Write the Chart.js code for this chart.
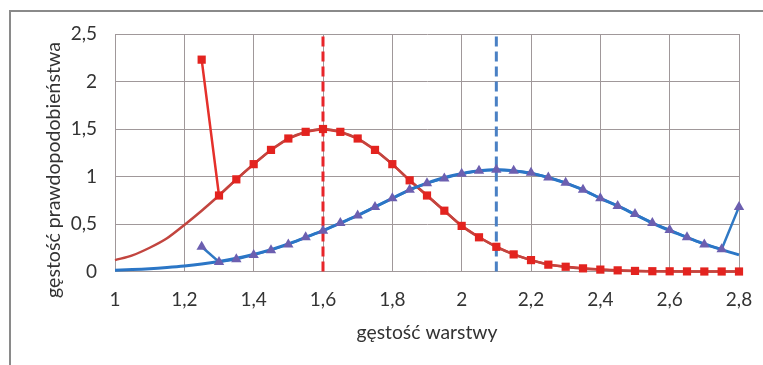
<!DOCTYPE html>
<html><head><meta charset="utf-8">
<script src="https://cdn.jsdelivr.net/npm/chart.js@4/dist/chart.umd.min.js"></script>
<style>
html,body{margin:0;padding:0;background:#fff;}
#wrap{position:relative;width:763px;height:365px;overflow:hidden;background:#fff;}
#frame{position:absolute;left:9px;top:10px;width:800px;height:400px;border-top:2px solid #8a8a8a;border-left:2px solid #8a8a8a;pointer-events:none;}
canvas{position:absolute;left:0;top:0;}
</style></head><body>
<div id="wrap"><canvas id="c" width="763" height="365"></canvas><div id="frame"></div></div>
<script>
// smooth (theoretical) density curves, x = 1.00 .. 2.80 step 0.05
const xSmooth = [1.00,1.05,1.10,1.15,1.20,1.25,1.30,1.35,1.40,1.45,1.50,1.55,1.60,1.65,1.70,1.75,1.80,1.85,1.90,1.95,2.00,2.05,2.10,2.15,2.20,2.25,2.30,2.35,2.40,2.45,2.50,2.55,2.60,2.65,2.70,2.75,2.80];
const redSmooth = [0.12,0.17,0.25,0.35,0.49,0.64,0.80,0.97,1.13,1.28,1.40,1.47,1.50,1.47,1.40,1.28,1.13,0.96,0.80,0.64,0.48,0.36,0.26,0.18,0.12,0.075,0.05,0.03,0.02,0.01,0.005,0.003,0.001,0,0,0,0];
const blueSmooth = [0.014,0.02,0.029,0.042,0.058,0.079,0.106,0.14,0.18,0.23,0.29,0.36,0.43,0.51,0.59,0.68,0.77,0.86,0.93,0.99,1.03,1.06,1.07,1.06,1.03,0.99,0.93,0.86,0.77,0.69,0.60,0.51,0.43,0.36,0.29,0.23,0.175];
// marker series, x = 1.25 .. 2.80 step 0.05
const xMarks = [1.25,1.30,1.35,1.40,1.45,1.50,1.55,1.60,1.65,1.70,1.75,1.80,1.85,1.90,1.95,2.00,2.05,2.10,2.15,2.20,2.25,2.30,2.35,2.40,2.45,2.50,2.55,2.60,2.65,2.70,2.75,2.80];
const redMarks = [2.23,0.80,0.97,1.13,1.28,1.40,1.47,1.50,1.47,1.40,1.28,1.13,0.96,0.80,0.64,0.48,0.36,0.26,0.18,0.12,0.072,0.05,0.033,0.02,0.012,0.006,0.003,0.002,0.001,0,0,0];
const blueMarks = [0.26,0.10,0.13,0.175,0.225,0.285,0.36,0.43,0.51,0.59,0.68,0.77,0.86,0.93,0.98,1.03,1.06,1.07,1.06,1.04,0.99,0.935,0.86,0.77,0.69,0.605,0.51,0.437,0.36,0.285,0.234,0.68];
// vertical reference lines (means)
const redMean = 1.6;
const blueMean = 2.1;
// axes
const xTickValues = [1,1.2,1.4,1.6,1.8,2,2.2,2.4,2.6,2.8];
const xTickLabels = ["1","1,2","1,4","1,6","1,8","2","2,2","2,4","2,6","2,8"];
const yTickValues = [0,0.5,1,1.5,2,2.5];
const yTickLabels = ["0","0,5","1","1,5","2","2,5"];
const xTitle = "gęstość warstwy";
const yTitle = "gęstość prawdopodobieństwa";

const pts = (xs, ys) => xs.map((x, i) => ({x: x, y: ys[i]}));

const RED_MARK = '#e3231f';
const RED_LINE = '#e5302b';
const RED_SMOOTH = '#c2453f';
const BLUE_LINE = '#2f78c4';
const BLUE_SMOOTH = '#2b76c6';
const TRI = '#6c5fb0';

const titlePlugin = {
  id: 'axisTitles',
  afterDraw(chart) {
    const ctx = chart.ctx;
    ctx.save();
    ctx.fillStyle = '#333333';
    ctx.textAlign = 'center';
    ctx.textBaseline = 'middle';
    ctx.font = '20px Lato';
    let w = ctx.measureText(xTitle).width;
    ctx.font = (20 * 141 / w).toFixed(2) + 'px Lato';
    ctx.fillText(xTitle, 427, 333);
    ctx.font = '20px Lato';
    w = ctx.measureText(yTitle).width;
    ctx.font = (20 * 256 / w).toFixed(2) + 'px Lato';
    ctx.translate(54, 170);
    ctx.rotate(-Math.PI / 2);
    ctx.fillText(yTitle, 0, 0);
    ctx.restore();
  }
};

new Chart(document.getElementById('c'), {
  type: 'line',
  data: {
    datasets: [
      { data: [{x: redMean, y: 0}, {x: redMean, y: 2.5}], borderColor: '#e8252a', borderWidth: 3, borderDash: [10, 5], pointRadius: 0, order: 10, clip: false },
      { data: [{x: blueMean, y: 0}, {x: blueMean, y: 2.52}], borderColor: '#4a80c4', borderWidth: 3, borderDash: [10, 5], pointRadius: 0, order: 9, clip: false },
      { data: pts(xMarks, redMarks), borderColor: RED_LINE, borderWidth: 2.5, pointRadius: 0, tension: 0, order: 8, clip: false },
      { data: pts(xMarks, blueMarks), borderColor: BLUE_LINE, borderWidth: 2.5, pointRadius: 0, tension: 0, order: 7, clip: false },
      { data: pts(xSmooth, redSmooth), borderColor: RED_SMOOTH, borderWidth: 2.5, pointRadius: 0, cubicInterpolationMode: 'monotone', order: 6, clip: false },
      { data: pts(xSmooth, blueSmooth), borderColor: BLUE_SMOOTH, borderWidth: 3, pointRadius: 0, cubicInterpolationMode: 'monotone', order: 5, clip: false },
      { data: pts(xMarks, redMarks), showLine: false, pointStyle: 'rect', pointRadius: 5.8, backgroundColor: RED_MARK, borderWidth: 0, order: 4, clip: false },
      { data: pts(xMarks, blueMarks), showLine: false, pointStyle: 'triangle', pointRadius: 6, backgroundColor: TRI, borderWidth: 0, order: 3, clip: false }
    ]
  },
  options: {
    responsive: false,
    animation: false,
    devicePixelRatio: 1,
    events: [],
    layout: { padding: { top: 34, right: 24, left: 0, bottom: 0 } },
    plugins: { legend: { display: false }, tooltip: { enabled: false } },
    scales: {
      x: {
        type: 'linear', min: 1, max: 2.8,
        afterFit(s) { s.height = 93.5; s.paddingRight = 0; s.paddingLeft = 0; },
        afterBuildTicks(s) { s.ticks = xTickValues.map(v => ({value: v})); },
        ticks: { callback: (v, i) => xTickLabels[i], font: { family: 'Lato', size: 19 }, color: '#333333', padding: 17, maxRotation: 0, autoSkip: false },
        grid: { color: '#a0989a', lineWidth: 1, drawTicks: false },
        border: { color: '#a0989a', width: 1 }
      },
      y: {
        type: 'linear', min: 0, max: 2.5,
        afterFit(s) { s.width = 115; s.paddingTop = 0; s.paddingBottom = 0; },
        afterBuildTicks(s) { s.ticks = yTickValues.map(v => ({value: v})); },
        ticks: { callback: (v, i) => yTickLabels[i], font: { family: 'Lato', size: 19 }, color: '#333333', padding: 18, autoSkip: false },
        grid: { color: '#a0989a', lineWidth: 1, drawTicks: false },
        border: { color: '#a0989a', width: 1 }
      }
    }
  },
  plugins: [titlePlugin]
});
</script>
</body></html>
